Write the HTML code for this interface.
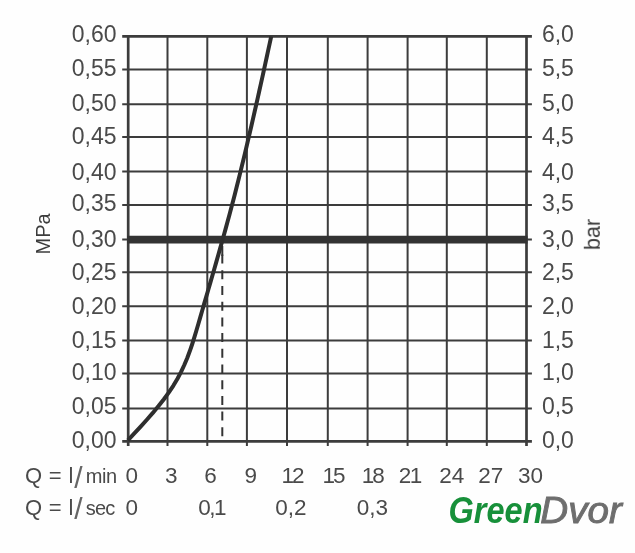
<!DOCTYPE html><html><head><meta charset="utf-8"><style>html,body{margin:0;padding:0;background:#fff;overflow:hidden}svg{display:block}text{font-family:"Liberation Sans",sans-serif;fill:#4a4a4a}</style></head><body>
<svg width="635" height="553" viewBox="0 0 635 553">
<rect width="635" height="553" fill="#fefefe"/><g opacity="0.999">
<line x1="128.20" y1="35.10" x2="128.20" y2="446.10" stroke="#3c3c3c" stroke-width="2.7"/>
<line x1="167.50" y1="35.10" x2="167.50" y2="446.10" stroke="#3c3c3c" stroke-width="2.0"/>
<line x1="207.30" y1="35.10" x2="207.30" y2="446.10" stroke="#3c3c3c" stroke-width="2.0"/>
<line x1="246.90" y1="35.10" x2="246.90" y2="446.10" stroke="#3c3c3c" stroke-width="2.0"/>
<line x1="287.00" y1="35.10" x2="287.00" y2="446.10" stroke="#3c3c3c" stroke-width="2.0"/>
<line x1="327.80" y1="35.10" x2="327.80" y2="446.10" stroke="#3c3c3c" stroke-width="2.0"/>
<line x1="367.60" y1="35.10" x2="367.60" y2="446.10" stroke="#3c3c3c" stroke-width="2.0"/>
<line x1="407.60" y1="35.10" x2="407.60" y2="446.10" stroke="#3c3c3c" stroke-width="2.0"/>
<line x1="446.80" y1="35.10" x2="446.80" y2="446.10" stroke="#3c3c3c" stroke-width="2.0"/>
<line x1="486.80" y1="35.10" x2="486.80" y2="446.10" stroke="#3c3c3c" stroke-width="2.0"/>
<line x1="526.50" y1="35.10" x2="526.50" y2="446.10" stroke="#3c3c3c" stroke-width="2.7"/>
<line x1="122.20" y1="36.40" x2="531.90" y2="36.40" stroke="#3c3c3c" stroke-width="2.7"/>
<line x1="122.20" y1="69.40" x2="531.90" y2="69.40" stroke="#3c3c3c" stroke-width="2.0"/>
<line x1="122.20" y1="104.20" x2="531.90" y2="104.20" stroke="#3c3c3c" stroke-width="2.0"/>
<line x1="122.20" y1="137.10" x2="531.90" y2="137.10" stroke="#3c3c3c" stroke-width="2.0"/>
<line x1="122.20" y1="171.60" x2="531.90" y2="171.60" stroke="#3c3c3c" stroke-width="2.0"/>
<line x1="122.20" y1="204.90" x2="531.90" y2="204.90" stroke="#3c3c3c" stroke-width="2.0"/>
<line x1="122.20" y1="239.60" x2="531.90" y2="239.60" stroke="#3c3c3c" stroke-width="2.0"/>
<line x1="122.20" y1="272.30" x2="531.90" y2="272.30" stroke="#3c3c3c" stroke-width="2.0"/>
<line x1="122.20" y1="306.30" x2="531.90" y2="306.30" stroke="#3c3c3c" stroke-width="2.0"/>
<line x1="122.20" y1="340.40" x2="531.90" y2="340.40" stroke="#3c3c3c" stroke-width="2.0"/>
<line x1="122.20" y1="373.40" x2="531.90" y2="373.40" stroke="#3c3c3c" stroke-width="2.0"/>
<line x1="122.20" y1="408.40" x2="531.90" y2="408.40" stroke="#3c3c3c" stroke-width="2.0"/>
<line x1="122.20" y1="441.30" x2="531.90" y2="441.30" stroke="#3c3c3c" stroke-width="2.7"/>
<line x1="127.20" y1="239.6" x2="527.50" y2="239.6" stroke="#333" stroke-width="7.7"/>
<line x1="222.3" y1="254.6" x2="222.3" y2="441.3" stroke="#333" stroke-width="2" stroke-dasharray="9,6.7"/>
<line x1="222.3" y1="246" x2="222.3" y2="256" stroke="#333" stroke-width="2"/>
<path d="M127.87,440.30 L134.31,433.46 L140.65,426.61 L146.83,419.77 L152.81,412.92 L158.51,406.08 L163.88,399.24 L168.86,392.39 L173.41,385.55 L177.46,378.70 L181.07,371.86 L184.28,365.02 L187.15,358.17 L189.73,351.33 L192.08,344.48 L194.26,337.64 L196.33,330.79 L198.33,323.95 L200.32,317.11 L202.30,310.26 L204.28,303.42 L206.28,296.57 L208.28,289.73 L210.27,282.89 L212.25,276.04 L214.23,269.20 L216.19,262.35 L218.14,255.51 L220.08,248.67 L222.00,241.82 L223.91,234.98 L225.80,228.13 L227.67,221.29 L229.52,214.45 L231.35,207.60 L233.16,200.76 L234.92,193.91 L236.66,187.07 L238.37,180.23 L240.07,173.38 L241.75,166.54 L243.41,159.69 L245.06,152.85 L246.69,146.01 L248.30,139.16 L249.90,132.32 L251.48,125.47 L253.05,118.63 L254.61,111.78 L256.16,104.94 L257.70,98.10 L259.23,91.25 L260.75,84.41 L262.26,77.56 L263.76,70.72 L265.26,63.88 L266.75,57.03 L268.23,50.19 L269.71,43.34 L271.19,36.50" fill="none" stroke="#2e2e2e" stroke-width="4" stroke-linejoin="round"/>
<text x="116.6" y="42.00" font-size="23" text-anchor="end">0,60</text>
<text x="116.6" y="76.20" font-size="23" text-anchor="end">0,55</text>
<text x="116.6" y="111.15" font-size="23" text-anchor="end">0,50</text>
<text x="116.6" y="144.10" font-size="23" text-anchor="end">0,45</text>
<text x="116.6" y="180.40" font-size="23" text-anchor="end">0,40</text>
<text x="116.6" y="211.40" font-size="23" text-anchor="end">0,35</text>
<text x="116.6" y="247.20" font-size="23" text-anchor="end">0,30</text>
<text x="116.6" y="279.60" font-size="23" text-anchor="end">0,25</text>
<text x="116.6" y="313.60" font-size="23" text-anchor="end">0,20</text>
<text x="116.6" y="347.60" font-size="23" text-anchor="end">0,15</text>
<text x="116.6" y="380.20" font-size="23" text-anchor="end">0,10</text>
<text x="116.6" y="414.10" font-size="23" text-anchor="end">0,05</text>
<text x="116.6" y="448.30" font-size="23" text-anchor="end">0,00</text>
<text x="541.9" y="42.00" font-size="23">6,0</text>
<text x="541.9" y="76.20" font-size="23">5,5</text>
<text x="541.9" y="111.15" font-size="23">5,0</text>
<text x="541.9" y="144.10" font-size="23">4,5</text>
<text x="541.9" y="180.40" font-size="23">4,0</text>
<text x="541.9" y="211.40" font-size="23">3,5</text>
<text x="541.9" y="247.20" font-size="23">3,0</text>
<text x="541.9" y="279.60" font-size="23">2,5</text>
<text x="541.9" y="313.60" font-size="23">2,0</text>
<text x="541.9" y="347.60" font-size="23">1,5</text>
<text x="541.9" y="380.20" font-size="23">1,0</text>
<text x="541.9" y="414.10" font-size="23">0,5</text>
<text x="541.9" y="448.30" font-size="23">0,0</text>
<text x="131.80" y="483.0" font-size="22.5" text-anchor="middle">0</text>
<text x="171.35" y="483.0" font-size="22.5" text-anchor="middle">3</text>
<text x="210.50" y="483.0" font-size="22.5" text-anchor="middle">6</text>
<text x="250.80" y="483.0" font-size="22.5" text-anchor="middle">9</text>
<text x="291.90" y="483.0" font-size="22.5" text-anchor="middle" letter-spacing="-2">12</text>
<text x="332.95" y="483.0" font-size="22.5" text-anchor="middle" letter-spacing="-2">15</text>
<text x="372.25" y="483.0" font-size="22.5" text-anchor="middle" letter-spacing="-2">18</text>
<text x="409.70" y="483.0" font-size="22.5" text-anchor="middle" letter-spacing="-1.5">21</text>
<text x="451.80" y="483.0" font-size="22.5" text-anchor="middle">24</text>
<text x="490.80" y="483.0" font-size="22.5" text-anchor="middle">27</text>
<text x="530.55" y="483.0" font-size="22.5" text-anchor="middle">30</text>
<text x="131.80" y="514.5" font-size="22.5" text-anchor="middle">0</text>
<text x="211.65" y="514.5" font-size="22.5" text-anchor="middle" letter-spacing="-1.5">0,1</text>
<text x="290.80" y="514.5" font-size="22.5" text-anchor="middle">0,2</text>
<text x="372.30" y="514.5" font-size="22.5" text-anchor="middle">0,3</text>
<text y="483.1" font-size="22"><tspan x="25.0" font-size="22">Q</tspan><tspan x="48.7">=</tspan><tspan x="68.6" font-size="22">l</tspan><tspan x="74.3" dy="4.4" font-size="30" style="fill:#666">/</tspan><tspan x="85.7" dy="-4.4" font-size="20" letter-spacing="-0.4">min</tspan></text>
<text y="514.8" font-size="22"><tspan x="25.0" font-size="22">Q</tspan><tspan x="48.7">=</tspan><tspan x="68.6" font-size="22">l</tspan><tspan x="74.3" dy="4.4" font-size="30" style="fill:#666">/</tspan><tspan x="85.7" dy="-4.4" font-size="20" letter-spacing="-0.8">sec</tspan></text>
<text transform="translate(49.8,254.5) rotate(-90)" font-size="20" style="fill:#3c3c3c">MPa</text>
<text transform="translate(599.8,250.1) rotate(-90)" font-size="21.6" style="fill:#3c3c3c">bar</text>
<text x="448.5" y="522.9" font-size="36" font-style="italic" font-weight="bold" style="fill:#17903a" textLength="94" lengthAdjust="spacingAndGlyphs">Green</text>
<text x="540.3" y="522.9" font-size="36" font-style="italic" style="fill:#6e6e6e;stroke:#6e6e6e;stroke-width:0.9" textLength="81.5" lengthAdjust="spacingAndGlyphs">Dvor</text>
</g></svg></body></html>
